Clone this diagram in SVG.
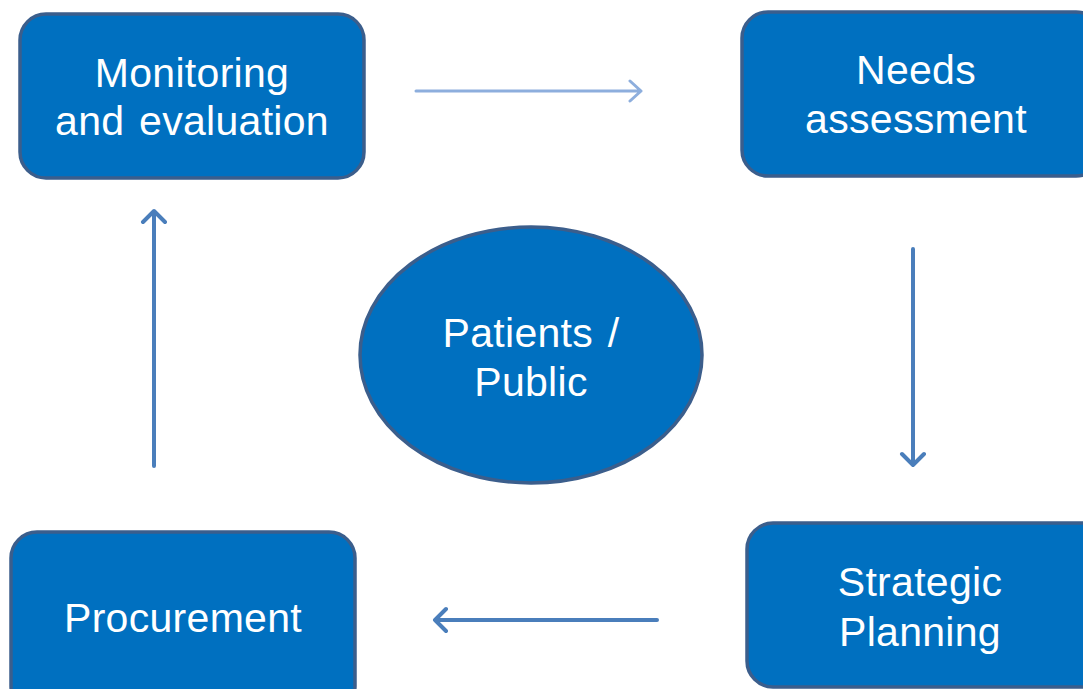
<svg xmlns="http://www.w3.org/2000/svg" width="1083" height="689" viewBox="0 0 1083 689">
  <style>
    .box { fill: #0070C0; stroke: #3B5E8C; stroke-width: 3.5; }
    .label { fill: #FFFFFF; font-family: "Liberation Sans", Arial, sans-serif; font-size: 41px; letter-spacing: 0.3px; word-spacing: 3px; text-anchor: middle; }
    .link { fill: none; stroke: #4A7EBB; stroke-width: 4; stroke-linecap: round; stroke-linejoin: round; }
    .link.faint { stroke: #8DAEDD; stroke-width: 3; }
  </style>
  <rect width="1083" height="689" fill="#FFFFFF"/>

  <g id="monitoring">
    <rect class="box" x="20" y="14" width="344" height="164" rx="26"/>
    <text class="label" x="192" y="87">Monitoring</text>
    <text class="label" x="192" y="135">and evaluation</text>
  </g>

  <g id="needs-assessment">
    <rect class="box" x="742" y="12" width="360" height="164" rx="26"/>
    <text class="label" x="916" y="84">Needs</text>
    <text class="label" x="916" y="133">assessment</text>
  </g>

  <g id="strategic-planning">
    <rect class="box" x="747" y="523" width="360" height="164" rx="26"/>
    <text class="label" x="920" y="596">Strategic</text>
    <text class="label" x="920" y="646">Planning</text>
  </g>

  <g id="procurement">
    <rect class="box" x="11" y="532" width="344" height="180" rx="26"/>
    <text class="label" x="183" y="632">Procurement</text>
  </g>

  <g id="patients-public">
    <ellipse class="box" cx="531" cy="355" rx="171" ry="128"/>
    <text class="label" x="531" y="347">Patients /</text>
    <text class="label" x="531" y="396">Public</text>
  </g>

  <g id="connectors">
    <path class="link faint" d="M416 91 H641 M630 81 L641 91 L630 101"/>
    <path class="link" d="M913 249 V465 M902 454 L913 465 L924 454"/>
    <path class="link" d="M657 620 H435 M446 609 L435 620 L446 631"/>
    <path class="link" d="M154 466 V211 M143 222 L154 211 L165 222"/>
  </g>
</svg>
